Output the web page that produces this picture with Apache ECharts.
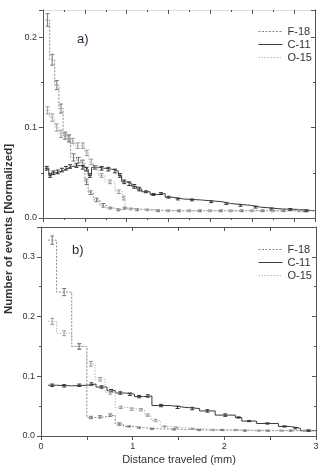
<!DOCTYPE html>
<html>
<head>
<meta charset="utf-8">
<script src="https://cdn.jsdelivr.net/npm/echarts@6/dist/echarts.min.js"></script>
<style>
  html, body { margin: 0; padding: 0; background: #fff; }
  #chart { width: 323px; height: 468px; }
</style>
</head>
<body>
<div id="chart"></div>
<script>
// panel a) - bin edges (mm), bin values, error half-widths
const f18aEdges = [0.03,0.08,0.14,0.19,0.24,0.29,0.33,0.40,0.45,0.50,0.54,0.60,0.68,0.76,0.85,0.95,1.00,1.25,1.50,1.75,2.00,2.25,2.50,2.75,3.00,3.25];
const f18aVals  = [0.219,0.175,0.147,0.121,0.091,0.088,0.067,0.064,0.061,0.040,0.028,0.020,0.014,0.011,0.009,0.011,0.009,0.008,0.008,0.008,0.008,0.008,0.008,0.008,0.008];
const f18aErr   = [0.007,0.006,0.005,0.005,0.004,0.004,0.004,0.003,0.003,0.003,0.002,0.002,0.002,0.001,0.001,0.001,0.001,0.001,0.001,0.001,0.001,0.001,0.001,0.001,0.001];

const c11aEdges = [0.02,0.07,0.10,0.15,0.20,0.25,0.30,0.35,0.45,0.50,0.54,0.58,0.66,0.74,0.82,0.90,0.94,1.00,1.06,1.12,1.18,1.28,1.36,1.46,1.54,1.68,1.88,2.14,2.24,2.48,2.60,2.86,3.05,3.25];
const c11aVals  = [0.055,0.047,0.050,0.051,0.053,0.055,0.057,0.058,0.056,0.054,0.047,0.056,0.055,0.054,0.052,0.047,0.040,0.038,0.035,0.032,0.029,0.026,0.027,0.023,0.021,0.020,0.018,0.016,0.014,0.012,0.010,0.0095,0.008];
const c11aErr   = [0.002,0.002,0.002,0.002,0.002,0.002,0.002,0.002,0.002,0.002,0.002,0.002,0.002,0.002,0.002,0.002,0.002,0.002,0.002,0.002,0.001,0.001,0.001,0.001,0.001,0.001,0.001,0.001,0.001,0.001,0.001,0.001,0.001];

const o15aEdges = [0.03,0.08,0.14,0.19,0.24,0.29,0.33,0.38,0.45,0.50,0.55,0.60,0.66,0.74,0.86,0.95,0.98,1.12,1.37,1.62,1.87,2.12,2.37,2.62,2.87,3.25];
const o15aVals  = [0.119,0.111,0.100,0.093,0.090,0.088,0.085,0.080,0.080,0.072,0.062,0.056,0.047,0.040,0.029,0.022,0.010,0.009,0.008,0.008,0.008,0.008,0.008,0.008,0.008];
const o15aErr   = [0.004,0.004,0.004,0.004,0.003,0.003,0.003,0.003,0.003,0.003,0.003,0.002,0.002,0.002,0.002,0.002,0.001,0.001,0.001,0.001,0.001,0.001,0.001,0.001,0.001];

// panel b)
const f18bEdges = [0.075,0.17,0.335,0.50,0.59,0.70,0.81,0.90,1.02,1.12,1.30,1.60,1.85,2.10,2.35,2.60,2.85,3.00];
const f18bVals  = [0.328,0.241,0.150,0.031,0.032,0.035,0.020,0.016,0.014,0.012,0.011,0.010,0.010,0.009,0.009,0.009,0.009];
const f18bErr   = [0.007,0.006,0.005,0.002,0.002,0.002,0.002,0.001,0.001,0.001,0.001,0.001,0.001,0.001,0.001,0.001,0.001];

const c11bEdges = [0.075,0.17,0.335,0.50,0.60,0.72,0.81,0.92,1.02,1.12,1.21,1.41,1.57,1.73,1.90,2.12,2.19,2.35,2.59,2.72,2.83,3.00];
const c11bVals  = [0.085,0.084,0.085,0.087,0.082,0.076,0.072,0.070,0.066,0.067,0.051,0.048,0.046,0.042,0.035,0.031,0.025,0.021,0.016,0.013,0.009];
const c11bErr   = [0.002,0.002,0.002,0.002,0.002,0.002,0.002,0.002,0.002,0.002,0.002,0.002,0.002,0.002,0.002,0.001,0.001,0.001,0.001,0.001,0.001];

const o15bEdges = [0.075,0.17,0.335,0.50,0.59,0.70,0.81,0.93,1.05,1.13,1.20,1.30,1.40,1.55,1.75,2.00,2.25,2.50,2.75,3.00];
const o15bVals  = [0.192,0.172,0.150,0.121,0.095,0.073,0.048,0.045,0.044,0.035,0.026,0.016,0.014,0.012,0.010,0.010,0.009,0.009,0.009];
const o15bErr   = [0.005,0.004,0.004,0.004,0.003,0.003,0.002,0.002,0.002,0.002,0.002,0.001,0.001,0.001,0.001,0.001,0.001,0.001,0.001];

const legendNames = ['F-18','C-11','O-15'];
const font = "'Liberation Sans', Arial, sans-serif";
const axisCol = '#555';
const txtCol = '#333';

const styles = {
  'F-18': { color: '#8a8a8a', type: [2, 1.5], bar: '#777' },
  'C-11': { color: '#3a3a3a', type: 'solid', bar: '#333' },
  'O-15': { color: '#b8b8b8', type: [1.5, 1.5], bar: '#999' }
};

function stepSeries(name, edges, vals, gi) {
  const st = styles[name];
  return {
    name, type: 'line', step: 'end', symbol: 'none',
    xAxisIndex: gi * 2, yAxisIndex: gi * 2,
    lineStyle: { color: st.color, width: 1, type: st.type },
    itemStyle: { color: st.color },
    data: edges.map((e, i) => [e, i < vals.length ? vals[i] : vals[vals.length - 1]]),
    z: 2, animation: false
  };
}

function errSeries(name, edges, vals, errs, gi) {
  const col = styles[name].bar;
  return {
    type: 'custom',
    xAxisIndex: gi * 2, yAxisIndex: gi * 2,
    data: vals.map((v, i) => [(edges[i] + edges[i + 1]) / 2, v, errs[i]]),
    encode: { x: 0, y: 1 },
    renderItem: (params, api) => {
      const x = api.value(0), y = api.value(1), e = api.value(2);
      const t = api.coord([x, y + e]);
      const b = api.coord([x, y - e]);
      const w = 2;
      const s = { stroke: col, lineWidth: 1 };
      return {
        type: 'group',
        children: [
          { type: 'line', shape: { x1: t[0], y1: t[1], x2: b[0], y2: b[1] }, style: s },
          { type: 'line', shape: { x1: t[0] - w, y1: t[1], x2: t[0] + w, y2: t[1] }, style: s },
          { type: 'line', shape: { x1: b[0] - w, y1: b[1], x2: b[0] + w, y2: b[1] }, style: s }
        ]
      };
    },
    z: 3, animation: false, silent: true
  };
}

function xAx(gi, pos, max, labels, minor) {
  const bottom = pos === 'bottom';
  return {
    type: 'value', gridIndex: gi, position: pos, min: 0, max, interval: 0.5,
    axisLine: { show: true, onZero: false, lineStyle: { color: (gi === 0 && !bottom) ? '#ddd' : axisCol, width: 1 } },
    axisTick: { show: true, inside: !bottom, length: 4, lineStyle: { color: axisCol } },
    minorTick: { show: minor, splitNumber: 2, length: 2, lineStyle: { color: axisCol } },
    axisLabel: {
      show: labels, color: txtCol, fontSize: 9, fontFamily: font, margin: 6,
      formatter: v => Math.abs(v - Math.round(v)) < 1e-6 ? String(Math.round(v)) : ''
    },
    splitLine: { show: false }, minorSplitLine: { show: false }
  };
}

function yAx(gi, pos, max) {
  const left = pos === 'left';
  return {
    type: 'value', gridIndex: gi, position: pos, min: 0, max, interval: 0.1,
    axisLine: { show: true, onZero: false, lineStyle: { color: axisCol, width: 1 } },
    axisTick: { show: true, inside: !left, length: 4, lineStyle: { color: axisCol } },
    minorTick: { show: true, splitNumber: 2, length: 2, lineStyle: { color: axisCol } },
    axisLabel: {
      show: left, color: txtCol, fontSize: 9, fontFamily: font, margin: 6,
      formatter: v => Math.abs(v * 10 - Math.round(v * 10)) < 1e-6 ? v.toFixed(1) : ''
    },
    splitLine: { show: false }, minorSplitLine: { show: false }
  };
}

function legendAt(top) {
  return {
    data: legendNames, orient: 'vertical', left: 253, top,
    itemWidth: 24, itemHeight: 10, itemGap: 2,
    itemStyle: { opacity: 0 },
    lineStyle: { width: 1 },
    textStyle: { color: txtCol, fontSize: 11, fontFamily: font },
    selectedMode: false
  };
}

const chart = echarts.init(document.getElementById('chart'), null, { renderer: 'canvas' });

chart.setOption({
  backgroundColor: '#fff',
  animation: false,
  grid: [
    { left: 43, top: 10, width: 272, height: 208 },
    { left: 41, top: 227, width: 275, height: 209 }
  ],
  xAxis: [
    xAx(0, 'bottom', 3.25, false, true),
    xAx(0, 'top', 3.25, false, true),
    xAx(1, 'bottom', 3, true, false),
    xAx(1, 'top', 3, false, false)
  ],
  yAxis: [
    yAx(0, 'left', 0.23),
    yAx(0, 'right', 0.23),
    yAx(1, 'left', 0.35),
    yAx(1, 'right', 0.35)
  ],
  legend: [legendAt(21), legendAt(239)],
  graphic: [
    { type: 'text', left: 77, top: 33, style: { text: 'a)', fontSize: 13, fontFamily: font, fill: '#2a2a40' } },
    { type: 'text', left: 72, top: 244, style: { text: 'b)', fontSize: 13, fontFamily: font, fill: '#2a2a40' } },
    { type: 'text', x: 3, y: 229, rotation: Math.PI / 2,
      style: { text: 'Number of events [Normalized]', fontSize: 11.5, fontWeight: 'bold', fontFamily: font, fill: txtCol, align: 'center', verticalAlign: 'top' } },
    { type: 'text', x: 179, y: 460,
      style: { text: 'Distance traveled (mm)', fontSize: 11, fontFamily: font, fill: txtCol, align: 'center', verticalAlign: 'middle' } }
  ],
  series: [
    stepSeries('F-18', f18aEdges, f18aVals, 0),
    stepSeries('C-11', c11aEdges, c11aVals, 0),
    stepSeries('O-15', o15aEdges, o15aVals, 0),
    stepSeries('F-18', f18bEdges, f18bVals, 1),
    stepSeries('C-11', c11bEdges, c11bVals, 1),
    stepSeries('O-15', o15bEdges, o15bVals, 1),
    errSeries('F-18', f18aEdges, f18aVals, f18aErr, 0),
    errSeries('C-11', c11aEdges, c11aVals, c11aErr, 0),
    errSeries('O-15', o15aEdges, o15aVals, o15aErr, 0),
    errSeries('F-18', f18bEdges, f18bVals, f18bErr, 1),
    errSeries('C-11', c11bEdges, c11bVals, c11bErr, 1),
    errSeries('O-15', o15bEdges, o15bVals, o15bErr, 1)
  ]
});
</script>
</body>
</html>
